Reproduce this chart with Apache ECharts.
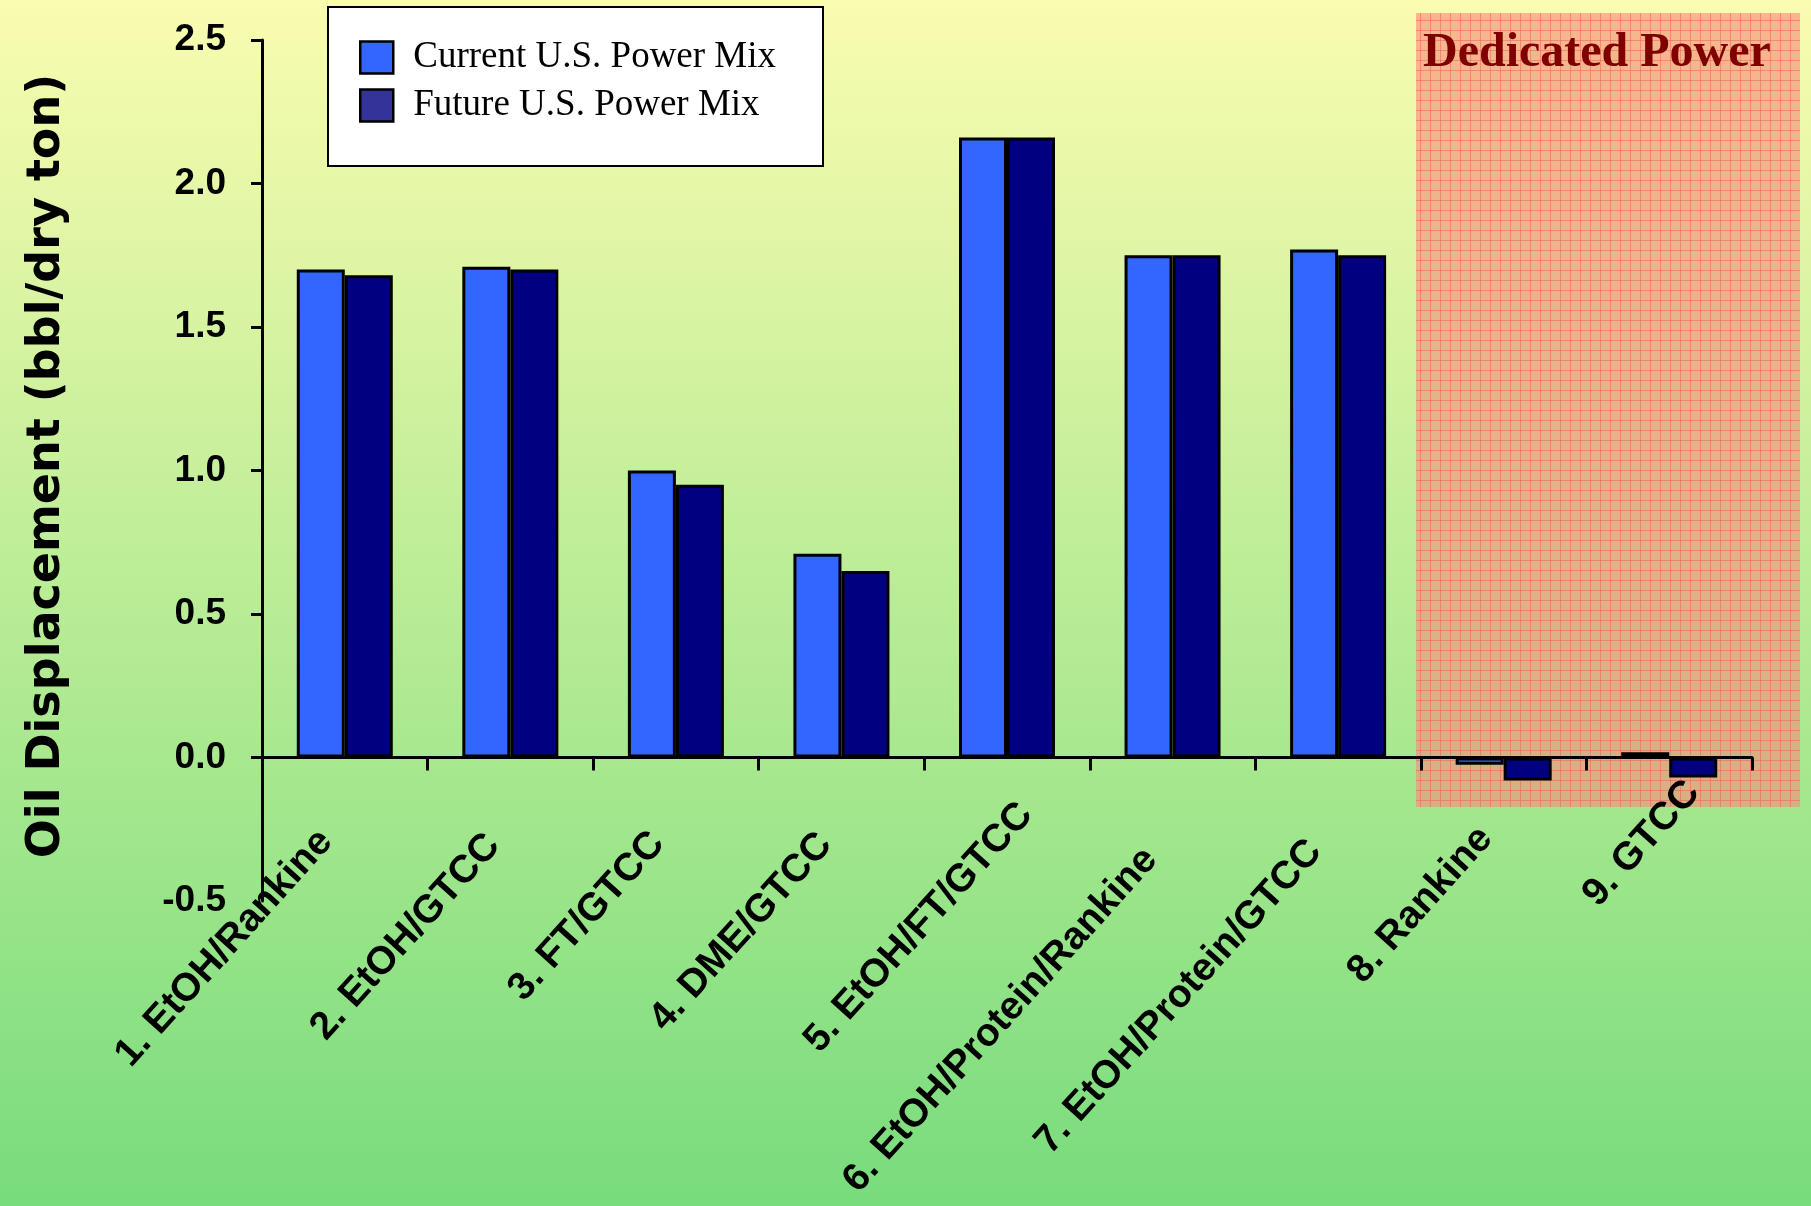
<!DOCTYPE html>
<html>
<head>
<meta charset="utf-8">
<script src="https://cdn.jsdelivr.net/npm/echarts@6/dist/echarts.min.js"></script>
<style>
  html, body { margin: 0; padding: 0; background: #fff; }
  #chart { width: 1811px; height: 1206px; }
</style>
</head>
<body>
<div id="chart"></div>
<script>
// Oil displacement per process configuration, bbl per dry ton of biomass
const categories = [
  '1. EtOH/Rankine',
  '2. EtOH/GTCC',
  '3. FT/GTCC',
  '4. DME/GTCC',
  '5. EtOH/FT/GTCC',
  '6. EtOH/Protein/Rankine',
  '7. EtOH/Protein/GTCC',
  '8. Rankine',
  '9. GTCC'
];
const seriesNames = ['Current U.S. Power Mix', 'Future U.S. Power Mix'];
const currentMix = [1.70, 1.71, 1.00, 0.71, 2.16, 1.75, 1.77, -0.025, 0.018];
const futureMix  = [1.68, 1.70, 0.95, 0.65, 2.16, 1.75, 1.75, -0.08, -0.07];
const yMin = -0.5, yMax = 2.5, yStep = 0.5;
const yTitle = 'Oil Displacement (bbl/dry ton)';
const panelTitle = 'Dedicated Power';

// where each slanted category label ends, relative to its category centre on the zero line
const labelEndShift = [
  [-19, 78], [-17, 82], [-18, 80], [-16, 81], [19, 51],
  [-22, 96], [-23, 88], [-18, 75], [24, 29]
];

// tick marks on the value axis stop at zero; the bottom value is labelled only
const yTickValues = [];
for (let v = 0; v <= yMax + 1e-9; v += yStep) yTickValues.push(+v.toFixed(1));

// orange graph-paper fill for the dedicated power block
function graphPaper() {
  const c = document.createElement('canvas');
  c.width = 10; c.height = 10;
  const g = c.getContext('2d');
  g.fillStyle = 'rgba(243,146,124,0.65)';
  g.fillRect(0, 0, 10, 10);
  g.fillStyle = 'rgba(240,96,92,0.55)';
  g.fillRect(0, 0, 10, 1);
  g.fillRect(0, 0, 1, 10);
  return c;
}

const chart = echarts.init(document.getElementById('chart'), null, { renderer: 'canvas' });

const axisFont = 'Liberation Sans, Arial, sans-serif';
const barBorder = { borderColor: '#000', borderWidth: 3 };

const decorations = [
  {
    id: 'panel', type: 'rect', z: 1, silent: true,
    shape: { x: 1416, y: 13, width: 384, height: 794 },
    style: { fill: { image: graphPaper(), repeat: 'repeat' } }
  },
  {
    id: 'panelTitle', type: 'text', z: 1, silent: true,
    x: 1423, y: 54,
    style: {
      text: panelTitle,
      font: 'bold 48px "Liberation Serif", "Times New Roman", serif',
      fill: '#800000',
      verticalAlign: 'middle', align: 'left'
    }
  },
  {
    id: 'legendBox', type: 'rect', z: 3, silent: true,
    shape: { x: 328, y: 7, width: 495, height: 159 },
    style: { fill: '#fff', stroke: '#000', lineWidth: 2 }
  }
];

const option = {
  animation: false,
  backgroundColor: {
    type: 'linear', x: 0, y: 0, x2: 0, y2: 1,
    colorStops: [
      { offset: 0, color: '#FAFCB0' },
      { offset: 1, color: '#78DC7C' }
    ]
  },
  grid: {
    left: 262, right: 59, top: 40, bottom: 305,
    containLabel: false,
    outerBoundsMode: 'none'
  },
  legend: {
    orient: 'vertical',
    left: 359, top: 39,
    padding: 0,
    itemWidth: 33, itemHeight: 32, itemGap: 11,
    icon: 'rect',
    selectedMode: false,
    z: 6,
    itemStyle: { borderColor: '#000', borderWidth: 2.5 },
    textStyle: {
      fontFamily: 'Liberation Serif, Times New Roman, serif',
      fontSize: 37, color: '#000',
      padding: [0, 0, 0, 15]
    },
    data: [
      { name: seriesNames[0], itemStyle: { color: '#3366FF' } },
      { name: seriesNames[1], itemStyle: { color: '#333399' } }
    ]
  },
  xAxis: {
    type: 'category',
    data: categories,
    z: 5,
    axisLine: { onZero: true, lineStyle: { color: '#000', width: 3 } },
    axisTick: { show: true, interval: 0, length: 13, lineStyle: { color: '#000', width: 3 } },
    axisLabel: { show: false },
    splitLine: { show: false }
  },
  yAxis: {
    type: 'value',
    min: yMin, max: yMax, interval: yStep,
    z: 5,
    name: yTitle,
    nameLocation: 'middle',
    nameRotate: 90,
    nameGap: 192,
    nameTextStyle: {
      fontFamily: 'DejaVu Sans, Verdana, sans-serif',
      fontWeight: 'bold', fontSize: 46, color: '#000',
      padding: [0, 0, 0, 9]
    },
    axisLine: { show: true, lineStyle: { color: '#000', width: 3 } },
    axisTick: {
      show: true, length: 11, customValues: yTickValues,
      lineStyle: { color: '#000', width: 3 }
    },
    axisLabel: {
      margin: 36,
      fontFamily: axisFont, fontWeight: 'bold', fontSize: 37, color: '#000',
      formatter: v => v.toFixed(1)
    },
    splitLine: { show: false }
  },
  series: [
    {
      name: seriesNames[0], type: 'bar', data: currentMix,
      barWidth: 48, barGap: '0%', z: 3,
      itemStyle: Object.assign({ color: '#3366FF' }, barBorder)
    },
    {
      name: seriesNames[1], type: 'bar', data: futureMix,
      barWidth: 48, barGap: '0%', z: 3,
      itemStyle: Object.assign({ color: '#000080' }, barBorder)
    }
  ],
  graphic: decorations
};

chart.setOption(option);

// slanted category labels hung off the zero line, placed through the axis scales
const labelAngle = 48 * Math.PI / 180;
const categoryLabels = categories.map((name, i) => {
  const p = chart.convertToPixel({ xAxisIndex: 0, yAxisIndex: 0 }, [i, 0]);
  return {
    id: 'cat' + i, type: 'text', z: 5, silent: true,
    x: p[0] + labelEndShift[i][0],
    y: p[1] + labelEndShift[i][1],
    rotation: labelAngle,
    style: {
      text: name,
      font: 'bold 39px "Liberation Sans", Arial, sans-serif',
      fill: '#000',
      align: 'right', verticalAlign: 'middle'
    }
  };
});

chart.setOption({ graphic: decorations.concat(categoryLabels) });
</script>
</body>
</html>
